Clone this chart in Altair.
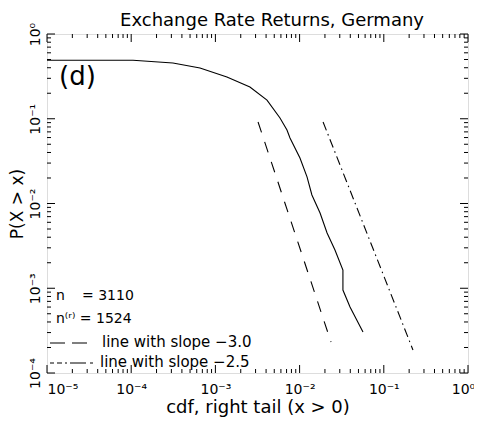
import altair as alt
import pandas as pd

# ---------------- data ----------------
cdf_x = [1e-5, 1.05e-4, 3.13e-4, 6.56e-4, 1.37e-3, 2.57e-3, 4.10e-3, 5.85e-3,
         7.08e-3, 7.69e-3, 0.0101, 0.01225, 0.0140, 0.0175, 0.0212, 0.0263,
         0.0327, 0.0327, 0.0397, 0.0566]
cdf_y = [0.49, 0.49, 0.455, 0.397, 0.311, 0.237, 0.166, 0.102,
         0.0737, 0.0593, 0.0344, 0.0206, 0.0126, 0.00772, 0.00449, 0.00283,
         0.00164, 0.000953, 0.000601, 0.000305]

slope3_x = [3.21e-3, 0.0236]
slope3_y = [0.0916, 2.32e-4]
slope25_x = [0.0190, 0.222]
slope25_y = [0.0916, 1.87e-4]

x_tick_values = [1e-5, 1e-4, 1e-3, 1e-2, 1e-1, 1.0]
x_tick_labels = ["10⁻⁵", "10⁻⁴", "10⁻³", "10⁻²", "10⁻¹", "10⁰"]
y_tick_values = [1e-4, 1e-3, 1e-2, 1e-1, 1.0]
y_tick_labels = ["10⁻⁴", "10⁻³", "10⁻²", "10⁻¹", "10⁰"]
x_decades = [-5, -4, -3, -2, -1]
y_decades = [-4, -3, -2, -1]
minor_multipliers = [2, 3, 4, 5, 6, 7, 8, 9]

title_text = "Exchange Rate Returns, Germany"
x_title = "cdf, right tail (x > 0)"
y_title = "P(X > x)"
panel_label = "(d)"
n_label = "n"
n_value = "= 3110"
nr_text = "n⁽ʳ⁾ = 1524"
legend_texts = ["line with slope −3.0", "line with slope −2.5"]

# ---------------- layout ----------------
W, H = 421, 339
FONT = "DejaVu Sans"

xscale = alt.Scale(type="log", domain=[1e-5, 1], nice=False)
yscale = alt.Scale(type="log", domain=[1e-4, 1], nice=False)


def label_expr(values, labels):
    expr = f"'{labels[-1]}'"
    for v, l in reversed(list(zip(values[:-1], labels[:-1]))):
        expr = f"datum.value < {v * 3:.6g} ? '{l}' : ({expr})"
    return expr


x_minor = [k * 10.0 ** d for d in x_decades for k in minor_multipliers]
y_minor = [k * 10.0 ** d for d in y_decades for k in minor_multipliers]

cdf_df = pd.DataFrame({"x": cdf_x, "y": cdf_y, "i": list(range(len(cdf_x)))})

curve = alt.Chart(cdf_df).mark_line(color="black", strokeWidth=1.1).encode(
    x=alt.X("x:Q", scale=xscale, axis=alt.Axis(
        values=x_tick_values, labelExpr=label_expr(x_tick_values, x_tick_labels),
        ticks=False, tickSize=0, domain=False, grid=False,
        labelFont=FONT, labelFontSize=14, labelColor="black", labelPadding=9,
        labelAlign={"condition": {"test": "datum.value < 2e-5", "value": "left"}, "value": "center"},
        labelOffset={"condition": {"test": "datum.value > 0.5", "value": -5}, "value": 0},
        labelOverlap=False,
        title=x_title, titleFont=FONT, titleFontSize=18, titleFontWeight="normal",
        titleColor="black", titleX=W / 2, titleY=39, titleBaseline="alphabetic", titleAlign="center")),
    y=alt.Y("y:Q", scale=yscale, axis=alt.Axis(
        values=y_tick_values, labelExpr=label_expr(y_tick_values, y_tick_labels),
        ticks=False, tickSize=0, domain=False, grid=False,
        labelFont=FONT, labelFontSize=14, labelColor="black", labelPadding=5,
        labelAngle=270, labelAlign="center", labelBaseline="bottom", labelOverlap=False,
        title=y_title, titleFont=FONT, titleFontSize=17, titleFontWeight="normal",
        titleColor="black", titleX=-25, titleY=H / 2, titleAngle=270,
        titleBaseline="alphabetic", titleAlign="center")),
    order="i:Q",
)

l3 = alt.Chart(pd.DataFrame({"x": slope3_x, "y": slope3_y})).mark_line(
    color="black", strokeWidth=1.1, strokeDash=[11, 10]).encode(
    x=alt.X("x:Q", scale=xscale), y=alt.Y("y:Q", scale=yscale))
l25 = alt.Chart(pd.DataFrame({"x": slope25_x, "y": slope25_y})).mark_line(
    color="black", strokeWidth=1.1, strokeDash=[9, 4, 1.5, 4]).encode(
    x=alt.X("x:Q", scale=xscale), y=alt.Y("y:Q", scale=yscale))


def xticks(vals, length, side):
    y0, y1 = (H - length, H) if side == "bottom" else (0, length)
    return alt.Chart(pd.DataFrame({"x": vals})).mark_rule(color="black", strokeWidth=1).encode(
        x=alt.X("x:Q", scale=xscale), y=alt.value(y0), y2=alt.value(y1))


def yticks(vals, length, side):
    x0, x1 = (0, length) if side == "left" else (W - length, W)
    return alt.Chart(pd.DataFrame({"y": vals})).mark_rule(color="black", strokeWidth=1).encode(
        y=alt.Y("y:Q", scale=yscale), x=alt.value(x0), x2=alt.value(x1))


tick_layers = [
    xticks(x_tick_values, 8, "bottom"), xticks(x_minor, 4, "bottom"),
    xticks(x_tick_values, 8, "top"), xticks(x_minor, 4, "top"),
    yticks(y_tick_values, 8, "left"), yticks(y_minor, 4, "left"),
    yticks(y_tick_values, 8, "right"), yticks(y_minor, 4, "right"),
]


def text_at(txt, x, y, size=14, baseline="alphabetic", align="left"):
    return alt.Chart(pd.DataFrame({"t": [txt]})).mark_text(
        font=FONT, fontSize=size, color="black", align=align, baseline=baseline).encode(
        text="t:N", x=alt.value(x), y=alt.value(y))


texts = [
    text_at(title_text, 225, -8, size=18, align="center"),
    text_at(panel_label, 12, 43, size=26, baseline="middle"),
    text_at(n_label, 9, 266),
    text_at(n_value, 35, 266),
    text_at(nr_text, 9, 289),
    text_at(legend_texts[0], 55, 313, size=15),
    text_at(legend_texts[1], 53, 333, size=15),
]

one = pd.DataFrame({"a": [0]})
leg3 = alt.Chart(one).mark_rule(color="black", strokeWidth=1.1, strokeDash=[15, 7]).encode(
    x=alt.value(3), x2=alt.value(40), y=alt.value(309))
leg25 = alt.Chart(one).mark_rule(color="black", strokeWidth=1.1, strokeDash=[4, 3, 5, 3, 2, 3, 16]).encode(
    x=alt.value(3), x2=alt.value(46), y=alt.value(329))

chart = alt.layer(curve, l3, l25, *tick_layers, *texts, leg3, leg25).properties(
    width=W, height=H,
    autosize=alt.AutoSizeParams(type="none"),
    padding={"left": 39, "top": 26, "right": 6, "bottom": 44},
).configure_view(stroke="black", strokeWidth=1.5).configure(background="white")

chart.save("out.html", embed_options={"renderer": "svg", "actions": False})
